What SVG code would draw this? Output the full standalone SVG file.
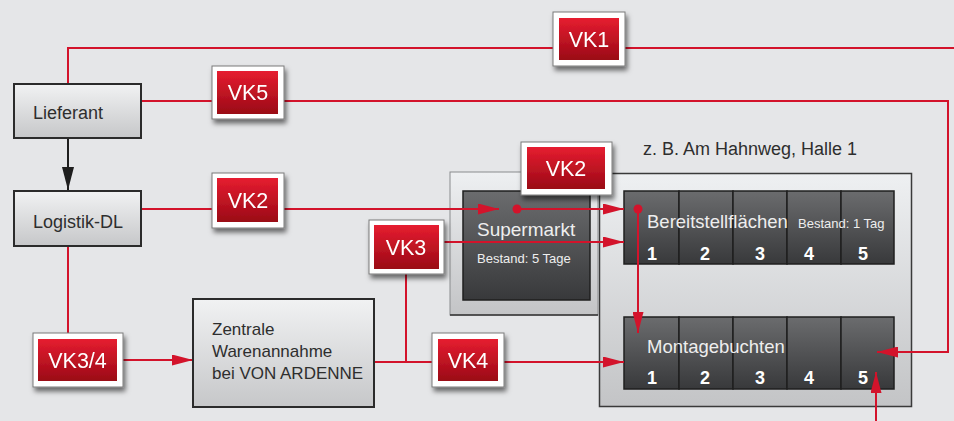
<svg xmlns="http://www.w3.org/2000/svg" width="954" height="421" viewBox="0 0 954 421">
<defs>
<linearGradient id="gLight" x1="0" y1="0" x2="0" y2="1"><stop offset="0" stop-color="#f1f2f3"/><stop offset="1" stop-color="#c6c7c9"/></linearGradient>
<linearGradient id="gPanel" x1="0" y1="0" x2="0" y2="1"><stop offset="0" stop-color="#eef0f2"/><stop offset="1" stop-color="#c3c4c6"/></linearGradient>
<linearGradient id="gDark" x1="0" y1="0" x2="0" y2="1"><stop offset="0" stop-color="#6b6c6e"/><stop offset="1" stop-color="#38393b"/></linearGradient>
<linearGradient id="gRed" x1="0" y1="0" x2="0" y2="1"><stop offset="0" stop-color="#e61d30"/><stop offset="1" stop-color="#9a0a16"/></linearGradient>
<filter id="shadow" x="-20%" y="-20%" width="150%" height="160%"><feDropShadow dx="2" dy="4" stdDeviation="2.5" flood-color="#000" flood-opacity="0.55"/></filter>
<marker id="ar" markerUnits="userSpaceOnUse" markerWidth="21" markerHeight="11" refX="21" refY="5.5" orient="auto"><path d="M0,0 L21,5.5 L0,11 z" fill="#d3132b"/></marker>
<marker id="abk" markerUnits="userSpaceOnUse" markerWidth="23" markerHeight="12" refX="23" refY="6" orient="auto"><path d="M0,0 L23,6 L0,12 z" fill="#1e1e1e"/></marker>
</defs>
<style>
.box{fill:url(#gLight);stroke:#2b2b2b;stroke-width:2}
.lbl{font-family:"Liberation Sans",Arial,sans-serif;fill:#2e2e2e}
.red{fill:none;stroke:#d3132b;stroke-width:2}
.cell{fill:url(#gDark);stroke:#1f1f1f;stroke-width:1.5}
.wt{font-family:"Liberation Sans",Arial,sans-serif;fill:#eeeeee}
.num{font-family:"Liberation Sans",Arial,sans-serif;fill:#ffffff;font-weight:bold;font-size:18px;text-anchor:middle}
.bo{fill:#ffffff;stroke:#7a7a7a;stroke-width:1}
.bi{fill:url(#gRed)}
.bt{font-family:"Liberation Sans",Arial,sans-serif;fill:#ffffff;font-size:21.5px;text-anchor:middle}
</style>
<rect width="954" height="421" fill="#e5e6e8"/>

<g id="hall">
<rect x="599.5" y="173.5" width="312" height="233" fill="url(#gPanel)" stroke="#3a3a3a" stroke-width="1.5"/>
<text class="lbl" x="643" y="155" font-size="18">z. B. Am Hahnweg, Halle 1</text>
</g>

<g id="supermarkt">
<rect x="450" y="172" width="148" height="143" fill="url(#gPanel)" stroke="#8a8b8d" stroke-width="1"/>
<line x1="450" y1="315" x2="598" y2="315" stroke="#333" stroke-width="1.5"/>
<rect x="463" y="191" width="127" height="109" class="cell"/>
<text class="wt" x="477" y="236" font-size="19">Supermarkt</text>
<text class="wt" x="477" y="263" font-size="13">Bestand: 5 Tage</text>
</g>

<g id="bereitstellflaechen">
<rect x="624" y="191" width="55" height="73" class="cell"/>
<rect x="679" y="191" width="54" height="73" class="cell"/>
<rect x="733" y="191" width="54" height="73" class="cell"/>
<rect x="787" y="191" width="54" height="73" class="cell"/>
<rect x="841" y="191" width="53" height="73" class="cell"/>
<text class="wt" x="647" y="228" font-size="18.5">Bereitstellflächen</text>
<text class="wt" x="798" y="228" font-size="13">Bestand: 1 Tag</text>
<text class="num" x="652" y="260">1</text>
<text class="num" x="705" y="260">2</text>
<text class="num" x="760" y="260">3</text>
<text class="num" x="809" y="260">4</text>
<text class="num" x="863" y="260">5</text>
</g>

<g id="montagebuchten">
<rect x="624" y="317" width="55" height="72" class="cell"/>
<rect x="679" y="317" width="54" height="72" class="cell"/>
<rect x="733" y="317" width="54" height="72" class="cell"/>
<rect x="787" y="317" width="54" height="72" class="cell"/>
<rect x="841" y="317" width="53" height="72" class="cell"/>
<text class="wt" x="647" y="353" font-size="18.5">Montagebuchten</text>
<text class="num" x="652" y="384">1</text>
<text class="num" x="705" y="384">2</text>
<text class="num" x="760" y="384">3</text>
<text class="num" x="809" y="384">4</text>
<text class="num" x="863" y="384">5</text>
</g>

<g id="connectors">
<polyline class="red" points="68,84 68,48 954,48"/>
<polyline class="red" points="141,101 948,101 948,352 877,352" marker-end="url(#ar)"/>
<line class="red" x1="141" y1="209" x2="499" y2="209" marker-end="url(#ar)"/>
<line class="red" x1="517" y1="209" x2="624" y2="209" marker-end="url(#ar)"/>
<circle cx="517" cy="209" r="4.5" fill="#d3132b"/>
<line class="red" x1="638" y1="209" x2="638" y2="333" marker-end="url(#ar)"/>
<circle cx="638" cy="209" r="4.5" fill="#d3132b"/>
<line class="red" x1="444" y1="242" x2="624" y2="242" marker-end="url(#ar)"/>
<line class="red" x1="406" y1="274" x2="406" y2="362"/>
<line class="red" x1="374" y1="362" x2="624" y2="362" marker-end="url(#ar)"/>
<line class="red" x1="68" y1="246" x2="68" y2="333"/>
<line class="red" x1="123" y1="360" x2="193" y2="360" marker-end="url(#ar)"/>
<line class="red" x1="876" y1="421" x2="876" y2="372" marker-end="url(#ar)"/>
<line x1="68" y1="138" x2="68" y2="190" stroke="#1e1e1e" stroke-width="2" marker-end="url(#abk)"/>
</g>

<g id="lieferant">
<rect x="14" y="84" width="127" height="54" class="box"/>
<text class="lbl" x="33" y="119" font-size="18">Lieferant</text>
</g>

<g id="logistik-dl">
<rect x="14" y="191" width="127" height="55" class="box"/>
<text class="lbl" x="33" y="228" font-size="18">Logistik-DL</text>
</g>

<g id="zentrale">
<rect x="193" y="299" width="181" height="108" class="box"/>
<text class="lbl" x="212" y="335" font-size="17">Zentrale</text>
<text class="lbl" x="212" y="357" font-size="17">Warenannahme</text>
<text class="lbl" x="212" y="379" font-size="17">bei VON ARDENNE</text>
</g>

<g id="vk1" filter="url(#shadow)">
<rect x="553" y="12" width="72" height="54" class="bo"/>
<rect x="559" y="18" width="60" height="42" class="bi"/>
<text class="bt" x="589" y="47">VK1</text>
</g>
<g id="vk5" filter="url(#shadow)">
<rect x="212" y="66" width="72" height="53" class="bo"/>
<rect x="217" y="71" width="61" height="43" class="bi"/>
<text class="bt" x="248" y="100">VK5</text>
</g>
<g id="vk2-left" filter="url(#shadow)">
<rect x="212" y="173" width="72" height="55" class="bo"/>
<rect x="217" y="178" width="61" height="44" class="bi"/>
<text class="bt" x="248" y="208">VK2</text>
</g>
<g id="vk2-top" filter="url(#shadow)">
<rect x="521" y="142" width="91" height="53" class="bo"/>
<rect x="527" y="147" width="78" height="42" class="bi"/>
<text class="bt" x="566" y="176">VK2</text>
</g>
<g id="vk3" filter="url(#shadow)">
<rect x="369" y="220" width="75" height="54" class="bo"/>
<rect x="374" y="225" width="65" height="44" class="bi"/>
<text class="bt" x="406" y="255">VK3</text>
</g>
<g id="vk4" filter="url(#shadow)">
<rect x="432" y="333" width="72" height="54" class="bo"/>
<rect x="438" y="339" width="60" height="42" class="bi"/>
<text class="bt" x="468" y="368">VK4</text>
</g>
<g id="vk34" filter="url(#shadow)">
<rect x="33" y="333" width="90" height="54" class="bo"/>
<rect x="38" y="339" width="79" height="42" class="bi"/>
<text class="bt" x="77.5" y="368">VK3/4</text>
</g>
</svg>
